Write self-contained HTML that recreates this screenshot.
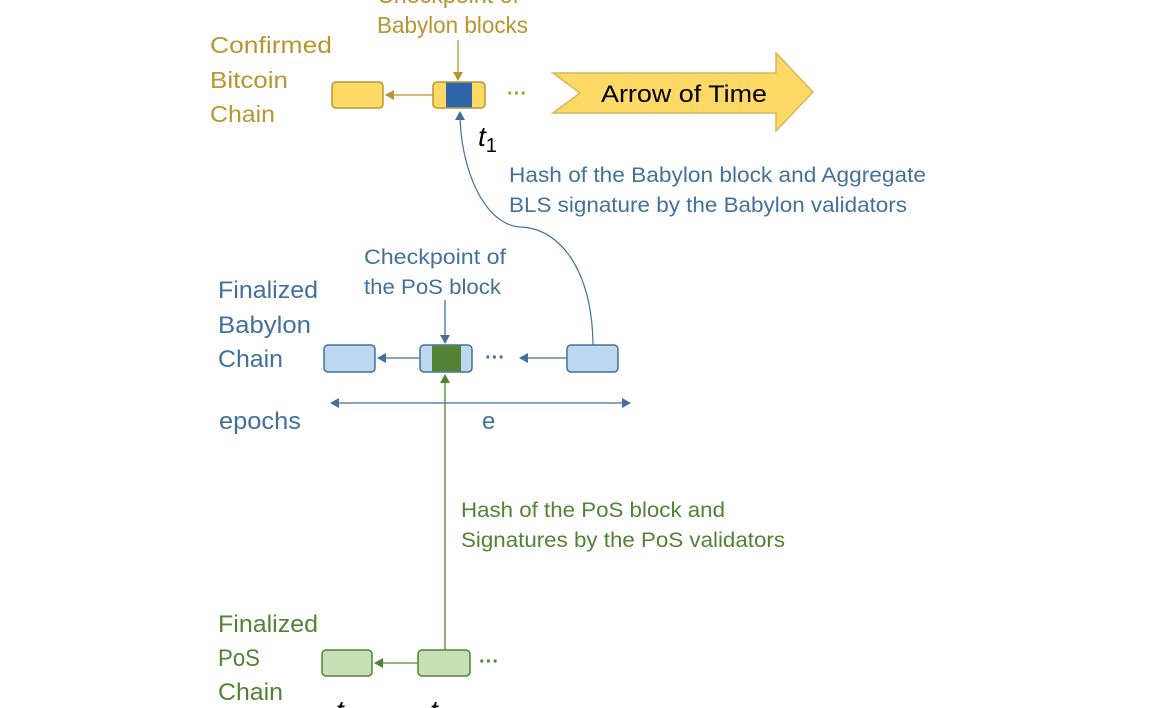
<!DOCTYPE html>
<html><head><meta charset="utf-8"><style>
html,body{margin:0;padding:0;background:#fff;}
svg{display:block;}
text{font-family:"Liberation Sans",sans-serif;}
</style></head><body>
<svg width="1150" height="708" viewBox="0 0 1150 708" xmlns="http://www.w3.org/2000/svg">
<defs>
<marker id="ag" markerWidth="10" markerHeight="10" refX="8" refY="5" orient="auto" markerUnits="userSpaceOnUse"><path d="M0,0 L9,5 L0,10 z" fill="#B8952E"/></marker>
<marker id="ab" markerWidth="10" markerHeight="10" refX="8" refY="5" orient="auto" markerUnits="userSpaceOnUse"><path d="M0,0 L9,5 L0,10 z" fill="#41719C"/></marker>
<marker id="ab2" markerWidth="10" markerHeight="10" refX="1" refY="5" orient="auto" markerUnits="userSpaceOnUse"><path d="M9,0 L0,5 L9,10 z" fill="#41719C"/></marker>
<marker id="agr" markerWidth="10" markerHeight="10" refX="8" refY="5" orient="auto" markerUnits="userSpaceOnUse"><path d="M0,0 L9,5 L0,10 z" fill="#548235"/></marker>
</defs>
<g fill="#B8952E" font-size="23">
<text x="377" y="3" textLength="142" lengthAdjust="spacingAndGlyphs">Checkpoint of</text>
<text x="377" y="33" textLength="151" lengthAdjust="spacingAndGlyphs">Babylon blocks</text>
<text x="210" y="53" textLength="122" lengthAdjust="spacingAndGlyphs">Confirmed</text>
<text x="210" y="88" textLength="78" lengthAdjust="spacingAndGlyphs">Bitcoin</text>
<text x="210" y="122" textLength="65" lengthAdjust="spacingAndGlyphs">Chain</text>
</g>
<line x1="458" y1="40" x2="458" y2="80" stroke="#B8952E" stroke-width="1.3" marker-end="url(#ag)"/>
<rect x="332" y="82" width="51" height="26" rx="4" fill="#FFD966" stroke="#B8952E" stroke-width="1.5"/>
<rect x="433" y="82" width="52" height="26" rx="4" fill="#FFD966" stroke="#B8952E" stroke-width="1.5"/>
<rect x="446" y="82.7" width="26" height="24.6" fill="#2E64A8"/>
<line x1="433" y1="95" x2="386" y2="95" stroke="#B8952E" stroke-width="1.3" marker-end="url(#ag)"/>
<text x="507" y="100" fill="#B8952E" font-size="20" font-weight="bold">···</text>
<path d="M553,73 L776,73 L776,53 L813,92 L776,131 L776,113 L553,113 L580,93 z" fill="#FFD966" stroke="#D6B656" stroke-width="1.5"/>
<text x="601" y="102" font-size="24" fill="#000" textLength="166" lengthAdjust="spacingAndGlyphs">Arrow of Time</text>
<text x="478" y="146" font-family="Liberation Serif,serif" font-style="italic" font-size="28" fill="#000">t<tspan font-style="normal" font-size="20" dy="6">1</tspan></text>
<path d="M593,345 C592,270 560,228 520,227 C485,225 460,170 460,112" fill="none" stroke="#41719C" stroke-width="1.2" marker-end="url(#ab)"/>
<g fill="#41719C" font-size="21">
<text x="509" y="182" textLength="417" lengthAdjust="spacingAndGlyphs">Hash of the Babylon block and Aggregate</text>
<text x="509" y="212" textLength="398" lengthAdjust="spacingAndGlyphs">BLS signature by the Babylon validators</text>
<text x="364" y="264" textLength="142" lengthAdjust="spacingAndGlyphs">Checkpoint of</text>
<text x="364" y="294" textLength="137" lengthAdjust="spacingAndGlyphs">the PoS block</text>
</g>
<g fill="#41719C" font-size="24">
<text x="218" y="298" textLength="100" lengthAdjust="spacingAndGlyphs">Finalized</text>
<text x="218" y="333" textLength="93" lengthAdjust="spacingAndGlyphs">Babylon</text>
<text x="218" y="367" textLength="65" lengthAdjust="spacingAndGlyphs">Chain</text>
<text x="219" y="429" textLength="82" lengthAdjust="spacingAndGlyphs">epochs</text>
<text x="482" y="429">e</text>
</g>
<line x1="445" y1="300" x2="445" y2="343" stroke="#41719C" stroke-width="1.3" marker-end="url(#ab)"/>
<rect x="324" y="345" width="51" height="27" rx="4" fill="#BDD7EE" stroke="#41719C" stroke-width="1.5"/>
<rect x="420" y="345" width="52" height="27" rx="4" fill="#BDD7EE" stroke="#41719C" stroke-width="1.5"/>
<rect x="432" y="345.7" width="29" height="25.6" fill="#548235"/>
<rect x="567" y="345" width="51" height="27" rx="4" fill="#BDD7EE" stroke="#41719C" stroke-width="1.5"/>
<line x1="420" y1="358" x2="378" y2="358" stroke="#41719C" stroke-width="1.3" marker-end="url(#ab)"/>
<line x1="567" y1="358" x2="520" y2="358" stroke="#41719C" stroke-width="1.3" marker-end="url(#ab)"/>
<text x="485" y="364" fill="#41719C" font-size="20" font-weight="bold">···</text>
<line x1="331" y1="403" x2="630" y2="403" stroke="#41719C" stroke-width="1.3" marker-start="url(#ab2)" marker-end="url(#ab)"/>
<line x1="445" y1="650" x2="445" y2="375" stroke="#548235" stroke-width="1.3" marker-end="url(#agr)"/>
<g fill="#548235" font-size="21">
<text x="461" y="517" textLength="264" lengthAdjust="spacingAndGlyphs">Hash of the PoS block and</text>
<text x="461" y="547" textLength="324" lengthAdjust="spacingAndGlyphs">Signatures by the PoS validators</text>
</g>
<g fill="#548235" font-size="24">
<text x="218" y="632" textLength="100" lengthAdjust="spacingAndGlyphs">Finalized</text>
<text x="218" y="666" textLength="42" lengthAdjust="spacingAndGlyphs">PoS</text>
<text x="218" y="700" textLength="65" lengthAdjust="spacingAndGlyphs">Chain</text>
</g>
<rect x="322" y="650" width="50" height="26" rx="4" fill="#C5E0B4" stroke="#548235" stroke-width="1.5"/>
<rect x="418" y="650" width="52" height="26" rx="4" fill="#C5E0B4" stroke="#548235" stroke-width="1.5"/>
<line x1="418" y1="663" x2="375" y2="663" stroke="#548235" stroke-width="1.3" marker-end="url(#agr)"/>
<text x="479" y="668" fill="#548235" font-size="20" font-weight="bold">···</text>
<text x="336" y="720" font-family="Liberation Serif,serif" font-style="italic" font-size="28" fill="#000">t<tspan font-style="normal" font-size="20" dy="6">1</tspan></text>
<text x="430" y="720" font-family="Liberation Serif,serif" font-style="italic" font-size="28" fill="#000">t<tspan font-style="normal" font-size="20" dy="6">1</tspan></text>
</svg>
</body></html>
